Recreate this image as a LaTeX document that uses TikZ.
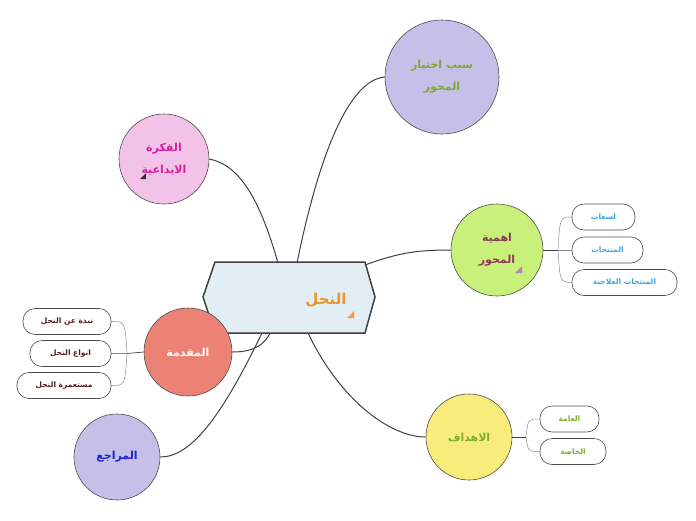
\documentclass[tikz,border=0pt]{standalone}
\usepackage{fontspec}
\newfontfamily\ar[Script=Arabic]{DejaVu Sans}
\TeXXeTstate=1
\begin{document}
\begin{tikzpicture}[x=1pt,y=-1pt,
  circ/.style={circle,draw=black!70,line width=0.6pt,inner sep=0pt,align=center,font=\ar\bfseries\fontsize{11}{22}\selectfont},
  sub/.style={draw=black!70,rounded corners=12pt,line width=0.6pt,minimum height=26pt,font=\ar\bfseries\fontsize{7.5}{9}\selectfont,inner sep=0pt},
  con/.style={draw=black!75,line width=1pt},
  br/.style={draw=black!45,line width=0.5pt}]
\useasboundingbox (0,0) rectangle (696,520);
\definecolor{cpur}{HTML}{C6C0E8}
% center
\path[fill={rgb,255:red,225;green,238;blue,244},draw=black!75,line width=1.5pt]
 (215,262)--(365,262)--(375,297)--(365,333)--(215,333)--(203,297)--cycle;
\node[font=\ar\bfseries\fontsize{15}{16}\selectfont,text={rgb,255:red,235;green,150;blue,40}] (c) at (326,300) {\beginR النحل\endR};
\fill[orange!80] (354,318)--(354,311)--(347,318)--cycle;
\coordinate (cT1) at (297,263); \coordinate (cT2) at (278,263);
\coordinate (cR) at (365,265); \coordinate (cB1) at (270,333);
\coordinate (cB2) at (308,333); \coordinate (cB3) at (262,333);
% circles
\node[circ,minimum size=114pt,fill=cpur,text={rgb,255:red,128;green,168;blue,56}] (a) at (442,77) {\beginR سبب  اختيار\endR\\\beginR المحور\endR};
\node[circ,minimum size=90pt,fill={rgb,255:red,242;green,194;blue,232},text={rgb,255:red,214;green,33;blue,156}] (f) at (164,159) {\beginR الفكرة\endR\\\beginR الابداعية\endR};
\fill[black!80] (146,179)--(146,173)--(140,179)--cycle;
\node[circ,minimum size=92pt,fill={rgb,255:red,201;green,240;blue,122},text={rgb,255:red,139;green,58;blue,90}] (g) at (497,250) {\beginR اهمية\endR\\\beginR المحور\endR};
\fill[violet!50] (522,273)--(522,266)--(515,273)--cycle;
\node[circ,minimum size=88pt,fill={rgb,255:red,236;green,130;blue,117},text=white] (m) at (188,352) {\beginR المقدمة\endR};
\node[circ,minimum size=86pt,fill={rgb,255:red,248;green,236;blue,122},text={rgb,255:red,127;green,176;blue,48}] (y) at (469,437) {\beginR الاهداف\endR};
\node[circ,minimum size=86pt,fill=cpur,text={rgb,255:red,30;green,30;blue,220}] (r) at (117,457) {\beginR المراجع\endR};
% connectors
\draw[con] (cT1) .. controls (320,150) and (350,80) .. (a.west);
\draw[con] (cT2) .. controls (260,200) and (240,165) .. (f.east);
\draw[con] (cR) .. controls (400,252) and (420,250) .. (g.west);
\draw[con] (cB1) .. controls (262,350) and (245,352) .. (m.east);
\draw[con] (cB2) .. controls (340,400) and (390,437) .. (y.west);
\draw[con] (cB3) .. controls (220,420) and (190,457) .. (r.east);
% right subs
\begin{scope}[every node/.style={sub,text={rgb,255:red,58;green,168;blue,224}}]
\node[minimum width=63pt] (g1) at (603.5,217) {\beginR لسعات\endR};
\node[minimum width=71pt] (g2) at (607.5,250) {\beginR المنتجات\endR};
\node[minimum width=105pt] (g3) at (624.5,282.5) {\beginR المنتجات  العلاجية\endR};
\end{scope}
\coordinate (gj) at (558,250);
\draw[con,line width=0.7pt] (g.east)--(gj);
\draw[br] (g1.west) .. controls (560,217) .. (gj) .. controls (560,282) .. (g3.west);
\draw[br] (gj)--(g2.west);
% left subs
\begin{scope}[every node/.style={sub,text={rgb,255:red,90;green,26;blue,26}}]
\node[minimum width=88pt] (m1) at (67,321.5) {\beginR نبذة عن النحل\endR};
\node[minimum width=81pt] (m2) at (70.5,353.5) {\beginR انواع  النحل\endR};
\node[minimum width=94pt] (m3) at (64,385.5) {\beginR مستعمرة  النحل\endR};
\end{scope}
\coordinate (mj) at (127,353.5);
\draw[con,line width=0.7pt] (m.west)--(mj);
\draw[br] (m1.east) .. controls (125,321.5) .. (mj) .. controls (125,385.5) .. (m3.east);
\draw[br] (mj)--(m2.east);
% yellow subs
\begin{scope}[every node/.style={sub,text={rgb,255:red,127;green,176;blue,48}}]
\node[minimum width=59pt] (y1) at (569.5,419) {\beginR العامة\endR};
\node[minimum width=66pt] (y2) at (573,451.5) {\beginR الخاصة\endR};
\end{scope}
\coordinate (yj) at (526,437);
\draw[con,line width=0.7pt] (y.east)--(yj);
\draw[br] (y1.west) .. controls (528,419) .. (yj) .. controls (528,451.5) .. (y2.west);
\end{tikzpicture}
\end{document}
